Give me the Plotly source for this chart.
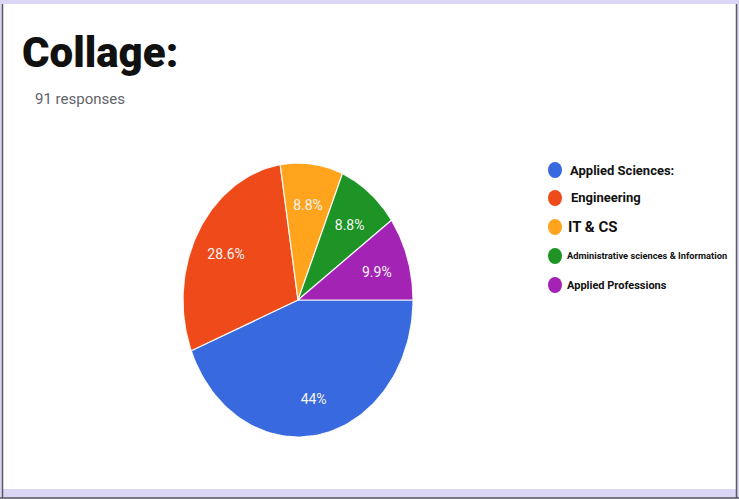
import numpy as np
import plotly.graph_objects as go

W, H = 739, 499

# Survey answers (91 responses)
categories = ["Applied Sciences:", "Engineering", "IT & CS",
              "Administrative sciences & Information", "Applied Professions"]
counts = [40, 26, 8, 8, 9]
colors = ["#3869DE", "#EE4A1A", "#FFA41C", "#1E9426", "#A323B4"]
legend_sizes = [13, 13, 15, 9.3, 11]

total = sum(counts)


def pct_label(v):
    p = round(v / total * 100, 1)
    s = f"{p:.1f}".rstrip("0").rstrip(".")
    return s + "%"


def px(x):
    return x / W


def py(y):
    return 1 - y / H


fig = go.Figure()

# Pie slices drawn in unit-circle data space; the axis domains set the on-screen oval
start = 90.0  # first slice starts at 3 o'clock, going clockwise
label_x, label_y, label_t = [], [], []
for cat, v, col in zip(categories, counts, colors):
    sweep = v / total * 360.0
    ang = np.radians(np.linspace(start, start + sweep, 80))
    xs = np.concatenate([[0], np.sin(ang), [0]])
    ys = np.concatenate([[0], np.cos(ang), [0]])
    fig.add_trace(go.Scatter(
        x=xs, y=ys, mode="lines", fill="toself", fillcolor=col,
        line=dict(color="rgba(255,255,255,0.9)", width=1.2),
        name=cat, hoverinfo="name", showlegend=False))
    mid = np.radians(start + sweep / 2)
    label_x.append(0.72 * np.sin(mid))
    label_y.append(0.72 * np.cos(mid) - 0.03)
    label_t.append(pct_label(v))
    start += sweep

fig.add_trace(go.Scatter(
    x=label_x, y=label_y, mode="text", text=label_t,
    textfont=dict(family="Roboto", size=14, color="#f4f4f4"),
    hoverinfo="skip", showlegend=False))

cx, cy, rx, ry = 298, 300, 115, 137
fig.update_xaxes(range=[-1, 1], domain=[px(cx - rx), px(cx + rx)], visible=False)
fig.update_yaxes(range=[-1, 1], domain=[py(cy + ry), py(cy - ry)], visible=False)

shapes = [
    # white card on a lavender backdrop
    dict(type="rect", xref="paper", yref="paper", x0=px(2), x1=px(736),
         y0=py(489), y1=py(4), fillcolor="white", line=dict(width=0), layer="below"),
    dict(type="line", xref="paper", yref="paper", x0=px(2.5), x1=px(2.5),
         y0=py(498), y1=py(4), line=dict(color="#5a5a5a", width=1.5)),
    dict(type="line", xref="paper", yref="paper", x0=px(736.5), x1=px(736.5),
         y0=py(498), y1=py(4), line=dict(color="#5a5a5a", width=1.5)),
    dict(type="line", xref="paper", yref="paper", x0=0, x1=1,
         y0=py(498), y1=py(498), line=dict(color="#5a5a5a", width=1.5)),
]

annotations = [
    dict(text="Collage:", xref="paper", yref="paper", x=px(20), y=py(52),
         xanchor="left", yanchor="middle", showarrow=False,
         font=dict(family="Roboto", size=42, weight=900, color="#111111")),
    dict(text="91 responses", xref="paper", yref="paper", x=px(33), y=py(99),
         xanchor="left", yanchor="middle", showarrow=False,
         font=dict(family="Roboto", size=15, color="#5f6368")),
]

# Legend: dot plus bold label per category
leg_y = [170, 198, 227, 256, 285]
leg_x = [568, 569, 566, 565, 565]
for cat, col, fs, yy, xx in zip(categories, colors, legend_sizes, leg_y, leg_x):
    shapes.append(dict(type="circle", xref="paper", yref="paper",
                       x0=px(548), x1=px(562), y0=py(yy + 8), y1=py(yy - 8),
                       fillcolor=col, line=dict(width=0)))
    annotations.append(dict(text=cat, xref="paper", yref="paper", x=px(xx), y=py(yy),
                            xanchor="left", yanchor="middle", showarrow=False,
                            font=dict(family="Roboto", size=fs, weight=700,
                                      color="#111111")))

fig.update_layout(
    width=W, height=H, margin=dict(l=0, r=0, t=0, b=0),
    paper_bgcolor="#dcd6f6", plot_bgcolor="rgba(0,0,0,0)",
    shapes=shapes, annotations=annotations, showlegend=False,
)

fig.write_html("out.html")
